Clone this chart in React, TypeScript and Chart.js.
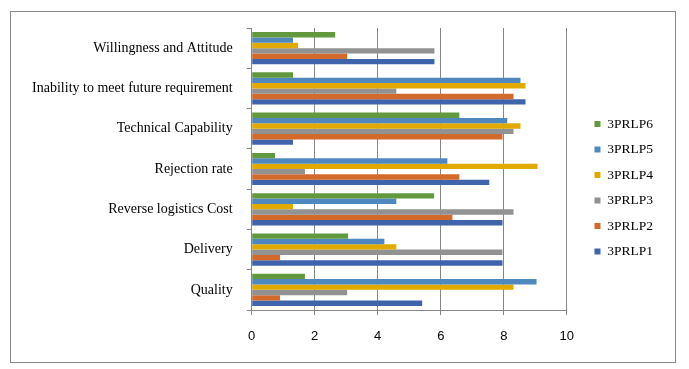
import { useEffect, useRef } from "react";
import { Chart, registerables } from "chart.js";

Chart.register(...registerables);

const categories = [
  "Willingness and Attitude",
  "Inability to meet future requirement",
  "Technical Capability",
  "Rejection rate",
  "Reverse logistics Cost",
  "Delivery",
  "Quality",
];

const p1 = [5.8, 8.69, 1.31, 7.54, 7.96, 7.96, 5.41];
const p2 = [3.03, 8.31, 7.96, 6.59, 6.37, 0.9, 0.9];
const p3 = [5.8, 4.59, 8.31, 1.69, 8.31, 7.96, 3.03];
const p4 = [1.47, 8.69, 8.53, 9.07, 1.31, 4.59, 8.31];
const p5 = [1.31, 8.53, 8.11, 6.21, 4.59, 4.21, 9.04];
const p6 = [2.65, 1.31, 6.59, 0.74, 5.79, 3.06, 1.69];

const seriesNames = ["3PRLP6", "3PRLP5", "3PRLP4", "3PRLP3", "3PRLP2", "3PRLP1"];
const seriesValues = [p6, p5, p4, p3, p2, p1];
const seriesColors = ["#62993E", "#4F88BF", "#E2AA00", "#929292", "#D3692A", "#3F64AC"];

const xMin = 0;
const xMax = 10;
const xStep = 2;

export default function App() {
  const ref = useRef<HTMLCanvasElement | null>(null);

  useEffect(() => {
    if (!ref.current) return;
    const axisGray = "#868686";
    const chart = new Chart(ref.current, {
      type: "bar",
      data: {
        labels: categories,
        datasets: seriesNames.map((name, i) => ({
          label: name,
          data: seriesValues[i],
          backgroundColor: seriesColors[i],
          borderWidth: 0,
          categoryPercentage: 0.8,
          barPercentage: 1.0,
          xAxisID: "x",
          yAxisID: "y",
        })),
      },
      options: {
        indexAxis: "y",
        responsive: false,
        animation: false,
        layout: { padding: { left: 10, top: 10, bottom: 3.5, right: 26 } },
        plugins: {
          tooltip: { enabled: false },
          legend: {
            position: "right",
            align: "center",
            labels: {
              boxWidth: 6,
              boxHeight: 6,
              padding: 12,
              color: "#000",
              font: { family: "Liberation Serif", size: 13.5 },
            },
          },
        },
        scales: {
          x: {
            type: "linear",
            position: "bottom",
            min: xMin,
            max: xMax,
            ticks: {
              stepSize: xStep,
              color: "#000",
              padding: 14,
              font: { family: "Liberation Sans", size: 13 },
            },
            grid: { color: axisGray, lineWidth: 1, tickLength: 5 },
            border: { display: true, color: axisGray, width: 1 },
            afterFit: (s: any) => {
              s.height = 55.5;
            },
          },
          xTop: {
            axis: "x",
            type: "linear",
            position: "top",
            grid: { display: false },
            border: { display: false },
            ticks: { display: false },
            afterFit: (s: any) => {
              s.height = 18;
            },
          },
          y: {
            type: "category",
            position: "left",
            ticks: {
              color: "#000",
              padding: 14,
              font: { family: "Liberation Serif", size: 14 },
            },
            grid: {
              display: true,
              drawOnChartArea: false,
              drawTicks: true,
              tickLength: 5,
              color: axisGray,
              offset: true,
            },
            border: { display: true, color: axisGray, width: 1 },
            afterFit: (s: any) => {
              s.width = 241.7;
            },
          },
          yRight: {
            axis: "y",
            type: "category",
            position: "right",
            grid: { display: false },
            border: { display: false },
            ticks: { display: false },
            afterFit: (s: any) => {
              s.width = 15.7;
            },
          },
        },
      } as any,
    });
    return () => chart.destroy();
  }, []);

  return (
    <div
      style={{
        position: "fixed",
        left: 0,
        top: 0,
        width: 689,
        height: 369,
        background: "#fff",
      }}
    >
      <div
        style={{
          position: "absolute",
          left: 10,
          top: 11,
          width: 666,
          height: 352,
          boxSizing: "border-box",
          border: "1px solid #888",
        }}
      />
      <canvas
        ref={ref}
        width={689}
        height={369}
        style={{ position: "absolute", left: 0, top: 0, width: 689, height: 369 }}
      />
    </div>
  );
}
